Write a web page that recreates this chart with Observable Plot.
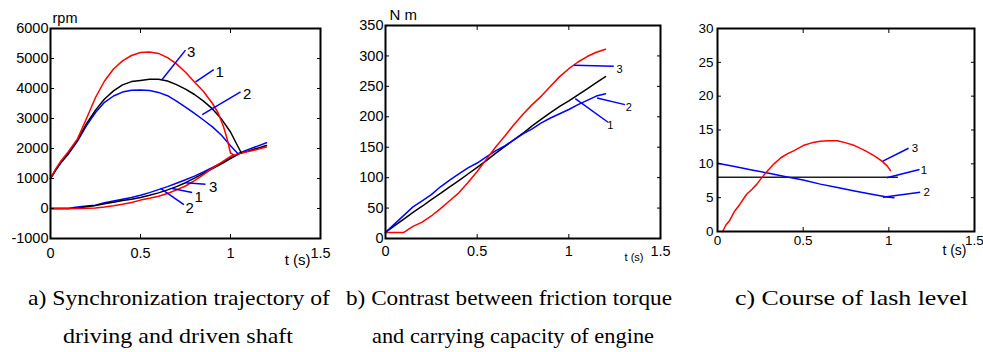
<!DOCTYPE html>
<html><head><meta charset="utf-8">
<script src="https://cdn.jsdelivr.net/npm/d3@7"></script>
<script src="https://cdn.jsdelivr.net/npm/@observablehq/plot@0.6"></script>
<style>
body{margin:0;background:#fff;}
#wrap{position:relative;width:983px;height:352px;overflow:hidden;background:#fff;}
.panel{position:absolute;top:0;}
.cap{position:absolute;font-family:"Liberation Serif","Times New Roman",Times,serif;font-size:22px;line-height:22px;white-space:nowrap;transform-origin:0 0;color:#000;}
</style></head><body><div id="wrap"></div>
<script>
// ---------- shared ticks ----------
const xTicks = [0, 0.5, 1, 1.5];
const aYTicks = [-1000, 0, 1000, 2000, 3000, 4000, 5000, 6000];
const bYTicks = [0, 50, 100, 150, 200, 250, 300, 350];
const cYTicks = [0, 5, 10, 15, 20, 25, 30];

// ---------- panel a: synchronization trajectory (rpm) ----------
const aRedDriveT = [0,0.03,0.06,0.1,0.15,0.2,0.25,0.3,0.35,0.4,0.45,0.5,0.55,0.6,0.65,0.7,0.75,0.8,0.85,0.9,0.93,0.96,0.98,1.0,1.02];
const aRedDriveV = [1000,1330,1600,1900,2320,3000,3700,4250,4650,4920,5100,5200,5220,5170,5030,4820,4540,4220,3900,3500,3200,2750,2350,1850,1780];
const aBlackDriveT = [0,0.03,0.06,0.1,0.15,0.2,0.25,0.3,0.35,0.4,0.45,0.5,0.55,0.6,0.65,0.7,0.75,0.8,0.85,0.9,0.95,1.0,1.03,1.06];
const aBlackDriveV = [1000,1300,1560,1850,2280,2830,3280,3650,3920,4120,4230,4270,4310,4310,4250,4130,3980,3800,3580,3320,2980,2550,2200,1850];
const aBlueDriveT = [0,0.03,0.06,0.1,0.15,0.2,0.25,0.3,0.35,0.4,0.45,0.5,0.55,0.6,0.65,0.7,0.75,0.8,0.85,0.9,0.95,1.0,1.04];
const aBlueDriveV = [1000,1290,1540,1820,2250,2760,3200,3540,3750,3880,3940,3950,3930,3870,3760,3580,3380,3170,2950,2720,2440,2090,1830];
const aDrivenT = [0,0.05,0.1,0.13,0.15,0.2,0.25,0.3,0.35,0.4,0.45,0.5,0.55,0.6,0.65,0.7,0.75,0.8,0.85,0.9,0.95,1.0,1.05,1.1,1.15,1.2];
const aBlueDrivenV  = [0,0,0,30,50,80,110,190,250,310,370,440,530,630,730,840,960,1080,1220,1370,1520,1690,1850,1970,2080,2190];
const aBlackDrivenV = [0,0,0,10,20,60,100,160,210,270,310,370,440,520,620,730,860,1010,1170,1330,1490,1660,1830,1920,2010,2100];
const aRedDrivenV   = [0,0,0,0,0,5,20,50,90,140,200,280,340,410,500,620,750,930,1130,1350,1540,1740,1830,1900,1970,2050];
const aLeadX1 = [0.62, 0.806, 0.843, 0.75, 0.676, 0.611];
const aLeadY1 = [4300, 4220, 3130, 860, 670, 670];
const aLeadX2 = [0.75, 0.907, 1.056, 0.861, 0.787, 0.741];
const aLeadY2 = [5280, 4630, 3890, 810, 530, 130];
const aLabelTxt = ["3", "1", "2", "3", "1", "2"];
const aLabelX = [0.759, 0.917, 1.07, 0.88, 0.80, 0.75];
const aLabelY = [5222, 4556, 3800, 722, 389, 0];

// ---------- panel b: friction torque vs carrying capacity (N m) ----------
const bT = [0,0.05,0.1,0.15,0.2,0.25,0.3,0.35,0.4,0.45,0.5,0.55,0.6,0.65,0.7,0.75,0.8,0.85,0.9,0.95,1.0,1.05,1.1,1.15,1.2];
const bRedV   = [10,10,10,20,27,37,49,62,75,92,110,130,150,168,187,204,220,234,250,266,279,290,299,306,311];
const bBlackV = [10,21,32,43,53,64,74,85,95,106,117,128,140,151,162,173,185,196,207,217,226,236,246,256,266];
const bBlueV  = [10,24,38,52,62,72,85,96,106,116,124,134,144,152,162,172,180,190,198,205,212,220,227,234,238];
const bLeadX1 = [1.029, 1.154, 1.035];
const bLeadY1 = [284.5, 231, 230];
const bLeadX2 = [1.245, 1.306, 1.214];
const bLeadY2 = [283, 220, 191];
const bLabelTxt = ["3", "2", "1"];
const bLabelX = [1.26, 1.31, 1.209];
const bLabelY = [277, 216, 186];

// ---------- panel c: lash level ----------
const cRedT = [0.03,0.05,0.07,0.1,0.13,0.17,0.2,0.23,0.26,0.29,0.33,0.37,0.41,0.45,0.5,0.55,0.6,0.65,0.7,0.75,0.8,0.85,0.88,0.92,0.96,0.99,1.01];
const cRedV = [0,1,1.6,3,4,5.5,6.2,7,8,8.9,10,10.9,11.5,12,12.7,13.1,13.35,13.4,13.4,13.1,12.7,12.1,11.7,11.1,10.4,9.7,9.0];
const cBlackT = [0, 1.05];
const cBlackV = [8, 8];
const cBlueT = [0,0.1,0.2,0.3,0.4,0.5,0.6,0.7,0.8,0.9,0.99,1.03];
const cBlueV = [10.1,9.6,9.1,8.6,8.1,7.6,7.0,6.5,6.0,5.5,5.1,5.0];
const cLeadX1 = [0.965, 0.988, 0.965];
const cLeadY1 = [10.4, 7.93, 5.06];
const cLeadX2 = [1.115, 1.179, 1.183];
const cLeadY2 = [12.3, 9.17, 5.8];
const cLabelTxt = ["3", "1", "2"];
const cLabelX = [1.134, 1.187, 1.202];
const cLabelY = [12.25, 9.02, 5.75];

// ---------- captions ----------
const captions = [
  ["a) Synchronization trajectory of", "driving and driven shaft"],
  ["b) Contrast between friction torque", "and carrying capacity of engine"],
  ["c) Course of lash level"]
];

const RED = "#ff0000", BLUE = "#0000ff", BLACK = "#000000";
const FONT = "Liberation Sans, Arial, Helvetica, sans-serif";

function series(t, v, color, w = 1.5) {
  return Plot.line(v, {x: t, y: d => d, stroke: color, strokeWidth: w});
}
function leaders(x1, y1, x2, y2) {
  return Plot.link(x1, {x1: x1, y1: y1, x2: x2, y2: y2, stroke: BLUE, strokeWidth: 1.5});
}
function labels(txt, x, y, fs) {
  return Plot.text(txt, {x: x, y: y, text: d => d, textAnchor: "start", lineAnchor: "middle", fontSize: fs, fill: "black"});
}
function axes(yTicks, o) {
  const fmt = d => String(d);
  const blank = () => "";
  return [
    Plot.axisX(xTicks, {anchor: "bottom", tickSize: -4, tickPadding: o.xPad, tickFormat: fmt, fontSize: o.fs, label: null}),
    Plot.axisX(xTicks, {anchor: "top", tickSize: -4, tickFormat: blank, label: null}),
    Plot.axisY(yTicks, {anchor: "left", tickSize: -4, tickPadding: o.yPad, tickFormat: fmt, fontSize: o.fs, label: null}),
    Plot.axisY(yTicks, {anchor: "right", tickSize: -4, tickFormat: blank, label: null}),
    Plot.frame({stroke: "black", strokeWidth: 2})
  ];
}
function place(svg, left) {
  svg.classList.add("panel");
  svg.style.left = left + "px";
  document.getElementById("wrap").appendChild(svg);
}
const baseStyle = {background: "transparent", fontFamily: FONT, color: "black", overflow: "visible"};

// Panel a
place(Plot.plot({
  width: 330, height: 270, marginLeft: 50, marginRight: 10, marginTop: 28, marginBottom: 32,
  x: {domain: [0, 1.5]}, y: {domain: [-1000, 6000]},
  style: baseStyle,
  marks: [
    series(aDrivenT, aBlueDrivenV, BLUE),
    series(aDrivenT, aBlackDrivenV, BLACK),
    series(aDrivenT, aRedDrivenV, RED),
    series(aBlueDriveT, aBlueDriveV, BLUE),
    series(aBlackDriveT, aBlackDriveV, BLACK),
    series(aRedDriveT, aRedDriveV, RED),
    leaders(aLeadX1, aLeadY1, aLeadX2, aLeadY2),
    labels(aLabelTxt, aLabelX, aLabelY, 15),
    ...axes(aYTicks, {xPad: 13, yPad: 6, fs: 14.5}),
    Plot.text(["rpm"], {text: d => d, frameAnchor: "top-left", dx: 2, dy: -10, textAnchor: "start", lineAnchor: "middle", fontSize: 14.5}),
    Plot.text(["t (s)"], {text: d => d, frameAnchor: "bottom-right", dx: -10, dy: 22, textAnchor: "end", lineAnchor: "middle", fontSize: 15})
  ]
}), 0);

// Panel b
place(Plot.plot({
  width: 345, height: 270, marginLeft: 55, marginRight: 15, marginTop: 25, marginBottom: 32,
  x: {domain: [0, 1.5]}, y: {domain: [0, 350]},
  style: baseStyle,
  marks: [
    series(bT, bBlackV, BLACK),
    series(bT, bBlueV, BLUE),
    series(bT, bRedV, RED),
    leaders(bLeadX1, bLeadY1, bLeadX2, bLeadY2),
    labels(bLabelTxt, bLabelX, bLabelY, 11),
    ...axes(bYTicks, {xPad: 11, yPad: 6, fs: 14.5}),
    Plot.text(["N m"], {text: d => d, frameAnchor: "top-left", dx: 4, dy: -10, textAnchor: "start", lineAnchor: "middle", fontSize: 15}),
    Plot.text(["t (s)"], {text: d => d, frameAnchor: "bottom-right", dx: -17, dy: 19, textAnchor: "end", lineAnchor: "middle", fontSize: 11})
  ]
}), 330);

// Panel c
place(Plot.plot({
  width: 323, height: 270, marginLeft: 57, marginRight: 9, marginTop: 28, marginBottom: 39,
  x: {domain: [0, 1.5]}, y: {domain: [0, 30]},
  style: baseStyle,
  marks: [
    series(cBlackT, cBlackV, "#222222"),
    series(cBlueT, cBlueV, BLUE),
    series(cRedT, cRedV, RED),
    leaders(cLeadX1, cLeadY1, cLeadX2, cLeadY2),
    labels(cLabelTxt, cLabelX, cLabelY, 11.5),
    ...axes(cYTicks, {xPad: 8, yPad: 8, fs: 13.5}),
    Plot.text(["t (s)"], {text: d => d, frameAnchor: "bottom-right", dx: -8, dy: 19, textAnchor: "end", lineAnchor: "middle", fontSize: 14})
  ]
}), 660);

// Captions (HTML text below the charts), each line fitted to the span it occupies in the reference
const capSpans = [[[28, 330], [63, 293]], [[346, 672], [372, 654]], [[735, 968]]];
const capTops = [287, 325];
captions.forEach((lines, i) => {
  lines.forEach((s, j) => {
    const d = document.createElement("div");
    d.className = "cap";
    d.textContent = s;
    const [l, r] = capSpans[i][j];
    d.style.left = l + "px";
    d.style.top = capTops[j] + "px";
    document.getElementById("wrap").appendChild(d);
    const w = d.getBoundingClientRect().width;
    if (w > 0) d.style.transform = "scaleX(" + ((r - l) / w) + ")";
  });
});
</script>
</body></html>
